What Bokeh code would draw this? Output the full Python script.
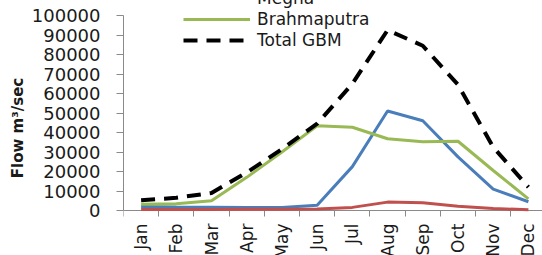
import numpy as np
from bokeh.plotting import figure
from bokeh.models import Range1d, FixedTicker, Legend, LegendItem, ColumnDataSource
from bokeh.embed import file_html
from bokeh.resources import INLINE

months = ["Jan", "Feb", "Mar", "Apr", "May", "Jun", "Jul", "Aug", "Sep", "Oct", "Nov", "Dec"]
ganges = [2000, 1800, 1700, 1600, 1600, 2700, 22500, 51000, 46000, 27500, 11000, 4500]
megna = [500, 500, 500, 600, 700, 800, 1600, 4300, 4000, 2200, 1000, 400]
brahmaputra = [3200, 3500, 5000, 17000, 30000, 43500, 42700, 36800, 35200, 35500, 20500, 6000]
total_gbm = [5300, 6500, 9000, 19500, 31500, 44500, 65000, 92500, 84500, 64500, 32500, 12000]
y_ticks = list(range(0, 100001, 10000))

xpos = [i + 0.5 for i in range(len(months))]
src = ColumnDataSource(dict(x=xpos, g=ganges, m=megna, b=brahmaputra, t=total_gbm))

FONT = "DejaVu Sans"
Y_MAX = 100000
Y_BELOW = Y_MAX * 45 / 195   # room below zero for the month labels
Y_ABOVE = Y_MAX * 15 / 195   # room above the top tick for the legend

p = figure(width=542, height=255, output_backend="svg", toolbar_location=None,
           x_range=Range1d(0, 11.9), y_range=Range1d(-Y_BELOW, Y_MAX + Y_ABOVE),
           min_border_left=123, min_border_right=0, min_border_top=0, min_border_bottom=0)
p.outline_line_color = None
p.xgrid.visible = False
p.ygrid.visible = False
p.background_fill_color = "white"
p.border_fill_color = "white"

r_g = p.line("x", "g", source=src, line_color="#4a7ebb", line_width=3)
r_m = p.line("x", "m", source=src, line_color="#c0504d", line_width=3)
r_b = p.line("x", "b", source=src, line_color="#98b954", line_width=3)
r_t = p.line("x", "t", source=src, line_color="black", line_width=4, line_dash="14 9")

# x axis at y = 0: tick marks at month boundaries, labels at month centres
p.xaxis.fixed_location = 0
p.xaxis.level = "underlay"
p.xaxis.ticker = FixedTicker(ticks=xpos, minor_ticks=list(range(len(months) + 1)))
p.xaxis.major_label_overrides = {x: m for x, m in zip(xpos, months)}
p.xaxis.major_label_orientation = np.pi / 2
p.xaxis.major_tick_out = 0
p.xaxis.major_tick_in = 0
p.xaxis.minor_tick_out = 6
p.xaxis.minor_tick_in = 0
p.xaxis.major_label_standoff = 7
p.xaxis.major_label_text_font = FONT
p.xaxis.major_label_text_font_size = "17px"
p.xaxis.major_label_text_color = "#1a1a1a"
p.xaxis.axis_line_color = "#8a8a8a"
p.xaxis.minor_tick_line_color = "#8a8a8a"

p.yaxis.bounds = (0, Y_MAX)
p.yaxis.ticker = FixedTicker(ticks=y_ticks, minor_ticks=[])
p.yaxis.formatter.use_scientific = False
p.yaxis.major_tick_out = 7
p.yaxis.major_tick_in = 0
p.yaxis.minor_tick_out = 0
p.yaxis.major_label_standoff = 16
p.yaxis.major_label_text_font = FONT
p.yaxis.major_label_text_font_size = "18px"
p.yaxis.major_label_text_color = "#1a1a1a"
p.yaxis.axis_line_color = "#8a8a8a"
p.yaxis.major_tick_line_color = "#8a8a8a"
p.yaxis.axis_label = "Flow m³/sec"
p.yaxis.axis_label_text_font = FONT
p.yaxis.axis_label_text_font_size = "15px"
p.yaxis.axis_label_text_font_style = "bold"
p.yaxis.axis_label_text_color = "#1a1a1a"
p.yaxis.axis_label_standoff = 2

legend = Legend(items=[
    LegendItem(label="Ganges", renderers=[r_g]),
    LegendItem(label="Megna", renderers=[r_m]),
    LegendItem(label="Brahmaputra", renderers=[r_b]),
    LegendItem(label="Total GBM", renderers=[r_t]),
], location=(60, 205))
legend.padding = 0
legend.margin = 0
legend.spacing = 1
legend.glyph_width = 67
legend.glyph_height = 18
legend.label_height = 18
legend.label_standoff = 7
legend.label_text_font = FONT
legend.label_text_font_size = "17px"
legend.label_text_color = "#1a1a1a"
legend.border_line_color = None
legend.background_fill_alpha = 0
p.add_layout(legend)

open("out.html", "w").write(file_html(p, INLINE))
